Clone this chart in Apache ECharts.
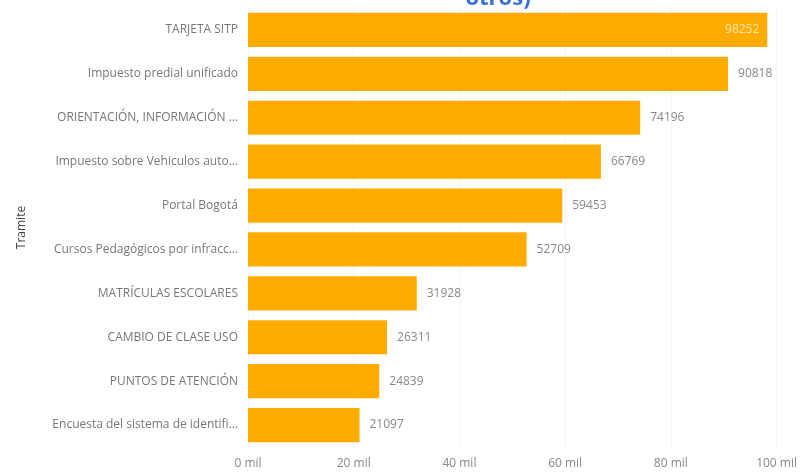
<!DOCTYPE html>
<html><head><meta charset="utf-8">
<script src="https://cdn.jsdelivr.net/npm/echarts@6/dist/echarts.min.js"></script>
<style>html,body{margin:0;padding:0;background:#fff}#c{width:800px;height:476px}</style>
</head><body><div id="c"></div>
<script>
const categories = ["TARJETA SITP","Impuesto predial unificado","ORIENTACIÓN, INFORMACIÓN …","Impuesto sobre Vehiculos auto…","Portal Bogotá","Cursos Pedagógicos por infracc…","MATRÍCULAS ESCOLARES","CAMBIO DE CLASE USO","PUNTOS DE ATENCIÓN","Encuesta del sistema de identifi…"];
const values = [98252,90818,74196,66769,59453,52709,31928,26311,24839,21097];
const axisName = "Tramite";
const titleFragment = "otros)";

const chart = echarts.init(document.getElementById('c'));
const font = "'Open Sans', sans-serif";
chart.setOption({
  animation:false,
  grid:{left:248,right:20,top:8,bottom:29,containLabel:false},
  graphic:[{type:'text',x:498,y:10,style:{text:titleFragment,fill:'#3a6fd6',font:"bold 22px 'Open Sans', sans-serif",align:'center',verticalAlign:'bottom'}}],
  xAxis:{type:'value',min:0,max:100000,interval:20000,
    axisLine:{show:false},axisTick:{show:false},
    splitLine:{show:true,lineStyle:{color:'#f4f4f4'}},
    axisLabel:{color:'#888',fontSize:12,fontFamily:font,margin:11,formatter:v=>(v/1000)+' mil'}},
  yAxis:{type:'category',data:categories,inverse:true,
    axisLine:{show:false},axisTick:{show:false},
    axisLabel:{color:'#777',fontSize:12,fontFamily:font,margin:10},
    name:axisName,nameLocation:'middle',nameRotate:90,nameGap:220,
    nameTextStyle:{color:'#444',fontSize:12,fontFamily:font}},
  series:[{type:'bar',data:values.map((v,i)=>i===0?{value:v,label:{position:'insideRight',color:'#ffe9b0',distance:8}}:v),
    barCategoryGap:'22%',itemStyle:{color:'#FFAB00'},
    label:{show:true,position:'right',distance:10,color:'#888',fontSize:12,fontFamily:font}}]
});
</script></body></html>
